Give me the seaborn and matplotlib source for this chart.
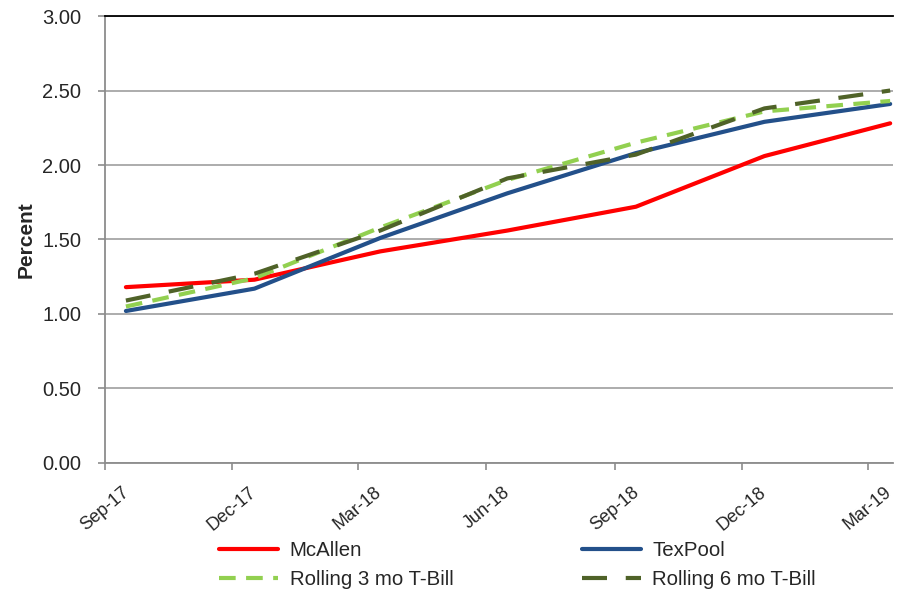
import matplotlib
matplotlib.use("Agg")
import matplotlib.pyplot as plt
import numpy as np
import pandas as pd
import seaborn as sns

# Quarter-end observation dates
dates = pd.to_datetime(["2017-09-30", "2017-12-31", "2018-03-31", "2018-06-30",
                        "2018-09-30", "2018-12-31", "2019-03-31"])
# Axis tick dates and labels
tick_dates = pd.to_datetime(["2017-09-15", "2017-12-15", "2018-03-15", "2018-06-15",
                             "2018-09-15", "2018-12-15", "2019-03-15"])
tick_labels = ["Sep-17", "Dec-17", "Mar-18", "Jun-18", "Sep-18", "Dec-18", "Mar-19"]

mcallen = [1.18, 1.23, 1.42, 1.56, 1.72, 2.06, 2.28]
texpool = [1.02, 1.17, 1.51, 1.81, 2.08, 2.29, 2.41]
tbill_3mo = [1.05, 1.24, 1.58, 1.90, 2.15, 2.36, 2.43]
tbill_6mo = [1.09, 1.27, 1.56, 1.91, 2.07, 2.38, 2.50]

series_names = ["McAllen", "TexPool", "Rolling 3 mo T-Bill", "Rolling 6 mo T-Bill"]

sns.set_style("white")
plt.rcParams["font.family"] = ["Liberation Sans", "DejaVu Sans"]

fig = plt.figure(figsize=(8.97, 5.95), dpi=100)
ax = fig.add_axes([0.117, 0.222, 0.8785, 0.751])

styles = {
    "McAllen": dict(color="#ff0000", lw=3.0, ls="-"),
    "TexPool": dict(color="#23508a", lw=3.0, ls="-"),
    "Rolling 3 mo T-Bill": dict(color="#92d050", lw=3.0, ls=(0, (4, 2.5))),
    "Rolling 6 mo T-Bill": dict(color="#4f6228", lw=3.0, ls=(0, (6, 4.5))),
}
values = {"McAllen": mcallen, "TexPool": texpool,
          "Rolling 3 mo T-Bill": tbill_3mo, "Rolling 6 mo T-Bill": tbill_6mo}

handles = {}
for name in series_names:
    st = styles[name]
    sns.lineplot(x=dates, y=values[name], ax=ax, color=st["color"],
                 linewidth=st["lw"], linestyle=st["ls"], label=name,
                 legend=False)
    handles[name] = ax.lines[-1]

yticks = np.arange(0, 3.01, 0.5)
ax.set_ylim(0, 3.0)
ax.set_yticks(yticks)
ax.set_yticklabels([f"{v:.2f}" for v in yticks], fontsize=14.5)
ax.set_xlim(pd.Timestamp("2017-09-15"), pd.Timestamp("2019-04-02"))
ax.set_xticks(tick_dates)
ax.set_xticklabels(tick_labels, rotation=40, ha="center", fontsize=13)
ax.set_ylabel("Percent", fontsize=15, fontweight="bold", labelpad=5)
ax.set_xlabel("")

ax.grid(axis="y", color="#a6a6a6", linewidth=1.3)
ax.set_axisbelow(True)
for side in ["left", "bottom"]:
    ax.spines[side].set_color("#8c8c8c")
    ax.spines[side].set_linewidth(1.3)
ax.spines["right"].set_visible(False)
ax.spines["top"].set_color("#000000")
ax.spines["top"].set_linewidth(1.3)
ax.tick_params(axis="y", direction="out", length=5, width=1.2, color="#8c8c8c",
               left=True, pad=12)
ax.tick_params(axis="x", direction="out", length=5, width=1.2, color="#8c8c8c",
               bottom=True, pad=10)

order = ["McAllen", "Rolling 3 mo T-Bill", "TexPool", "Rolling 6 mo T-Bill"]
fig.legend([handles[n] for n in order], order, ncol=2, frameon=False,
           loc="center", bbox_to_anchor=(0.577, 0.05), fontsize=14.7,
           handlelength=2.9, columnspacing=6.3, labelspacing=0.48,
           handletextpad=0.55)

fig.savefig("out.png", dpi=100)
